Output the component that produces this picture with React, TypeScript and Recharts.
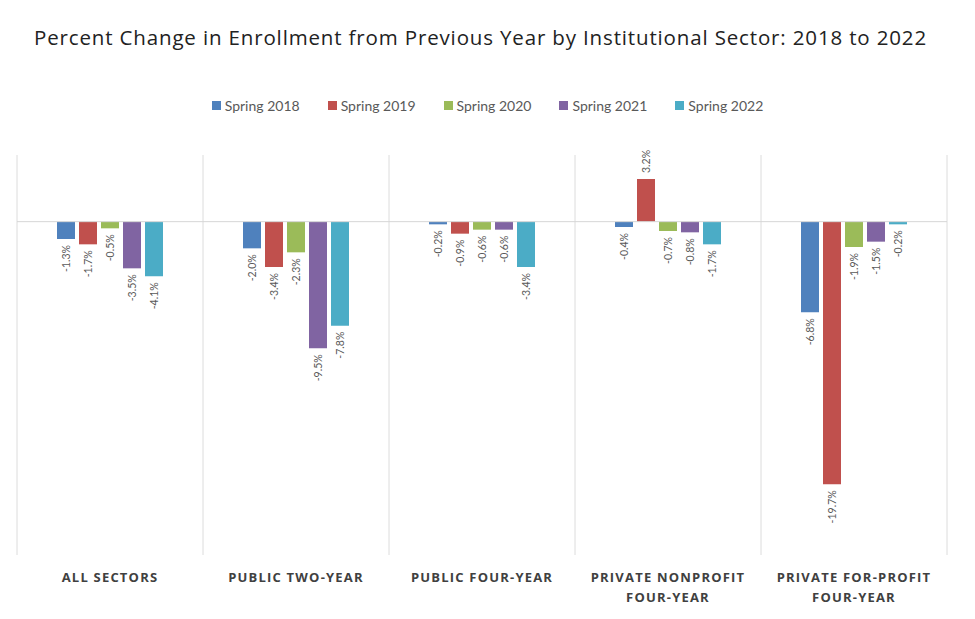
import React from 'react';
import { BarChart, Bar, XAxis, YAxis, CartesianGrid, ReferenceLine, LabelList } from 'recharts';

if (typeof document !== 'undefined') document.body.style.margin = '0';

const categories = [
  'ALL SECTORS',
  'PUBLIC TWO-YEAR',
  'PUBLIC FOUR-YEAR',
  'PRIVATE NONPROFIT FOUR-YEAR',
  'PRIVATE FOR-PROFIT FOUR-YEAR',
];

const spring2018 = [-1.3, -2.0, -0.2, -0.4, -6.8];
const spring2019 = [-1.7, -3.4, -0.9, 3.2, -19.7];
const spring2020 = [-0.5, -2.3, -0.6, -0.7, -1.9];
const spring2021 = [-3.5, -9.5, -0.6, -0.8, -1.5];
const spring2022 = [-4.1, -7.8, -3.4, -1.7, -0.2];

const SERIES = [
  { key: 'Spring 2018', values: spring2018, color: '#4f81bd' },
  { key: 'Spring 2019', values: spring2019, color: '#c0504d' },
  { key: 'Spring 2020', values: spring2020, color: '#9bbb59' },
  { key: 'Spring 2021', values: spring2021, color: '#8064a2' },
  { key: 'Spring 2022', values: spring2022, color: '#4bacc6' },
];

// category boundaries for the vertical grid lines
const gridTicks = [0, 1, 2, 3, 4, 5];

const data = categories.map((name, i) => {
  const row: Record<string, any> = { name, idx: i + 0.5 };
  SERIES.forEach((s) => (row[s.key] = s.values[i]));
  return row;
});

// split long category names into lines of at most 18 chars
function wrap(text: string, max = 18) {
  const lines: string[] = [];
  let cur = '';
  text.split(' ').forEach((w) => {
    const next = cur ? cur + ' ' + w : w;
    if (next.length > max && cur) {
      lines.push(cur);
      cur = w;
    } else cur = next;
  });
  if (cur) lines.push(cur);
  return lines;
}

const CategoryTick = (props: any) => {
  const { x, y, payload } = props;
  const lines = wrap(payload.value);
  return (
    <text
      x={x}
      y={y}
      textAnchor="middle"
      fill="#404040"
      fontFamily="'Open Sans', sans-serif"
      fontWeight={700}
      fontSize={13}
      letterSpacing={1.2}
    >
      {lines.map((l, i) => (
        <tspan key={i} x={x} dy={i === 0 ? 19 : 20}>
          {l}
        </tspan>
      ))}
    </text>
  );
};

const ValueLabel = (props: any) => {
  const { x, y, width, height, value } = props;
  const cx = x + width / 2;
  const top = Math.min(y, y + height);
  const bottom = Math.max(y, y + height);
  const neg = value < 0;
  const ly = neg ? bottom + 6 : top - 6;
  return (
    <text
      x={cx}
      y={ly}
      transform={`rotate(-90 ${cx} ${ly})`}
      textAnchor={neg ? 'end' : 'start'}
      dominantBaseline="central"
      fill="#595959"
      fontFamily="Lato, sans-serif"
      fontSize={10.5}
    >
      {`${value.toFixed(1)}%`}
    </text>
  );
};

const LegendRow = () => (
  <div
    style={{
      position: 'absolute',
      top: 97,
      left: 0,
      width: 975,
      display: 'flex',
      justifyContent: 'center',
      fontFamily: 'Lato, sans-serif',
      fontSize: 14,
      color: '#595959',
    }}
  >
    {SERIES.map((s) => (
      <div key={s.key} style={{ display: 'flex', alignItems: 'center', margin: '0 14px' }}>
        <span style={{ width: 9, height: 9, background: s.color, display: 'inline-block', marginRight: 4 }} />
        <span>{s.key}</span>
      </div>
    ))}
  </div>
);

export default function App() {
  return (
    <div style={{ position: 'relative', width: 975, height: 619, background: '#fff' }}>
      <div
        style={{
          position: 'absolute',
          top: 23,
          left: 0,
          width: 961,
          textAlign: 'center',
          fontFamily: "'Open Sans', sans-serif",
          fontSize: 20.5,
          letterSpacing: 0.85,
          color: '#222',
          whiteSpace: 'nowrap',
        }}
      >
        Percent Change in Enrollment from Previous Year by Institutional Sector: 2018 to 2022
      </div>
      <LegendRow />
      <div style={{ position: 'absolute', top: 0, left: 0 }}>
        <BarChart
          width={975}
          height={619}
          data={data}
          margin={{ top: 155, right: 28, left: 17, bottom: 14 }}
          barSize={18}
          barGap={4}
        >
          <XAxis
            xAxisId="grid"
            dataKey="idx"
            type="number"
            domain={[0, 5]}
            ticks={gridTicks}
            allowDataOverflow
            hide
          />
          <CartesianGrid xAxisId="grid" horizontal={false} stroke="#dcdcdc" />
          <XAxis dataKey="name" height={50} axisLine={false} tickLine={false} tick={<CategoryTick />} interval={0} />
          <YAxis type="number" domain={[-25, 5]} hide />
          <ReferenceLine y={0} stroke="#d6d6d6" />
          {SERIES.map((s) => (
            <Bar key={s.key} dataKey={s.key} fill={s.color} isAnimationActive={false}>
              <LabelList dataKey={s.key} content={<ValueLabel />} />
            </Bar>
          ))}
        </BarChart>
      </div>
    </div>
  );
}
